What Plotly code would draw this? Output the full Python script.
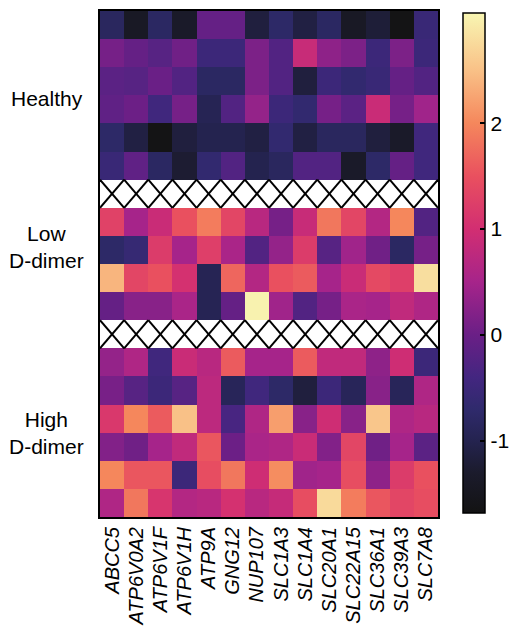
import plotly.graph_objects as go

genes = ["ABCC5", "ATP6V0A2", "ATP6V1F", "ATP6V1H", "ATP9A", "GNG12", "NUP107",
         "SLC1A3", "SLC1A4", "SLC20A1", "SLC22A15", "SLC36A1", "SLC39A3", "SLC7A8"]

healthy = [
    [-0.85, -1.4, -0.8, -1.35, -0.05, -0.05, -1.15, -0.75, -1.1, -0.8, -1.4, -1.2, -1.65, -0.55],
    [0.1, -0.05, -0.2, 0.05, -0.5, -0.5, 0.15, -0.25, 0.88, 0.3, 0.15, -0.5, 0.15, -0.5],
    [-0.15, -0.2, 0.0, -0.25, -0.8, -0.8, 0.15, -0.25, -1.15, -0.5, -0.65, -0.55, -0.05, -0.25],
    [-0.1, 0.02, -0.45, 0.1, -0.95, -0.25, 0.35, -0.5, -0.65, 0.1, -0.15, 0.9, 0.1, 0.45],
    [-0.75, -1.1, -1.65, -1.15, -1.0, -1.0, -1.1, -0.65, -1.1, -0.85, -0.85, -1.15, -1.35, -0.45],
    [-0.55, -0.1, -0.8, -1.25, -0.65, -0.25, -1.0, -0.85, -0.25, -0.25, -1.35, -0.75, -0.05, -0.45],
]
low_ddimer = [
    [1.3, 0.5, 0.9, 1.5, 1.9, 1.35, 0.7, 0.1, 0.88, 1.85, 1.35, 0.65, 2.0, -0.25],
    [-0.75, -0.6, 1.2, 0.5, 1.25, 0.55, -0.25, 0.35, 1.2, -0.2, 0.45, 0.05, -0.8, 0.1],
    [2.4, 1.35, 1.5, 1.05, -0.95, 1.7, 0.65, 1.5, 1.6, 0.5, 0.9, 1.4, 1.25, 2.8],
    [-0.05, 0.25, 0.25, 0.55, -0.95, -0.05, 3.0, 0.45, -0.25, 0.1, 0.55, 0.5, 0.8, 0.6],
]
high_ddimer = [
    [0.35, 0.6, -0.45, 0.9, 0.7, 1.6, 0.5, 0.5, 1.6, 0.8, 0.8, 0.3, 0.95, -0.5],
    [0.12, -0.2, -0.5, -0.2, 0.75, -0.9, -0.45, -0.75, -1.15, -0.5, -0.9, 0.25, -0.9, 0.6],
    [1.15, 2.0, 1.6, 2.5, 0.75, -0.35, 0.6, 2.2, 0.25, 0.95, 0.25, 2.55, 0.6, 0.7],
    [0.2, 0.05, 0.5, 0.8, 1.55, 0.02, 0.55, 0.6, 0.9, 0.2, 1.35, 0.05, 0.5, -0.15],
    [2.0, 1.55, 1.55, -0.5, 1.45, 1.85, 0.95, 2.05, 0.45, 0.5, 1.45, 0.3, 1.2, 1.5],
    [0.6, 1.85, 1.1, 0.65, 0.7, 1.05, 0.7, 0.85, 1.45, 2.75, 1.9, 1.55, 1.35, 1.45],
]
group_labels = ["Healthy", "Low<br>D-dimer", "High<br>D-dimer"]
cbar_ticks = [-1, 0, 1, 2]
cbar_ticktext = ["-1", "0", "1", "2"]

ZMIN, ZMAX = -1.68, 3.04
stops = [(-1.68, "#131313"), (-1.3, "#1b1b2c"), (-1.0, "#24234f"), (-0.7, "#2f2a6c"),
         (-0.4, "#432680"), (0.0, "#6a1f86"), (0.5, "#a6248a"), (1.0, "#d22e72"),
         (1.5, "#e9505f"), (2.0, "#f5875c"), (2.5, "#f9c187"), (3.04, "#f8f6b2")]
colorscale = [[(v - ZMIN) / (ZMAX - ZMIN), c] for v, c in stops]

blank = [None] * len(genes)
z = healthy + [blank] + low_ddimer + [blank] + high_ddimer
sep_rows = [len(healthy), len(healthy) + 1 + len(low_ddimer)]
ncols = len(genes)

FONT = "Liberation Sans, Arial"

fig = go.Figure(go.Heatmap(
    z=z, x=list(range(ncols)), y=list(range(len(z))),
    colorscale=colorscale, zmin=ZMIN, zmax=ZMAX, hoverongaps=False,
    colorbar=dict(
        tickvals=cbar_ticks, ticktext=cbar_ticktext, ticks="inside", ticklen=5, tickwidth=1.5,
        tickcolor="black", outlinewidth=1.5, outlinecolor="black", thickness=22,
        xpad=0, ypad=0, tickprefix="\u00a0",
        x=1.074, xanchor="left", y=0.502, yanchor="middle", len=0.988,
        tickfont=dict(family=FONT, size=21, color="black"),
    ),
))

shapes = []
for r in sep_rows:
    for c in range(ncols):
        shapes.append(dict(type="line", x0=c - 0.5, y0=r - 0.5, x1=c + 0.5, y1=r + 0.5,
                           xref="x", yref="y", line=dict(color="black", width=2)))
        shapes.append(dict(type="line", x0=c - 0.5, y0=r + 0.5, x1=c + 0.5, y1=r - 0.5,
                           xref="x", yref="y", line=dict(color="black", width=2)))

group_sizes = [len(healthy), len(low_ddimer), len(high_ddimer)]
starts = [0, len(healthy) + 1, len(healthy) + 1 + len(low_ddimer) + 1]
label_offsets = [0.1, -0.6, 0.0]
annotations = []
for lab, s, n, off in zip(group_labels, starts, group_sizes, label_offsets):
    annotations.append(dict(text=lab, x=-0.157, xref="paper", y=s + (n - 1) / 2 + off, yref="y",
                            showarrow=False, xanchor="center", yanchor="middle", align="center",
                            font=dict(family=FONT, size=21, color="black")))

fig.update_layout(
    width=519, height=619,
    margin=dict(l=92, r=89, t=3, b=110, autoexpand=False),
    paper_bgcolor="white", plot_bgcolor="white",
    shapes=shapes, annotations=annotations,
    xaxis=dict(tickvals=list(range(ncols)), ticktext=["<i>%s</i>" % g for g in genes],
               tickangle=-90, ticks="", range=[-0.5, ncols - 0.5], automargin=False,
               tickfont=dict(family=FONT, size=20, color="black"),
               showline=True, mirror=True, linecolor="black", linewidth=2, showgrid=False,
               zeroline=False),
    yaxis=dict(range=[len(z) - 0.5, -0.5], showticklabels=False, ticks="", automargin=False,
               showline=True, mirror=True, linecolor="black", linewidth=2, showgrid=False,
               zeroline=False),
)

fig.write_html("out.html")
